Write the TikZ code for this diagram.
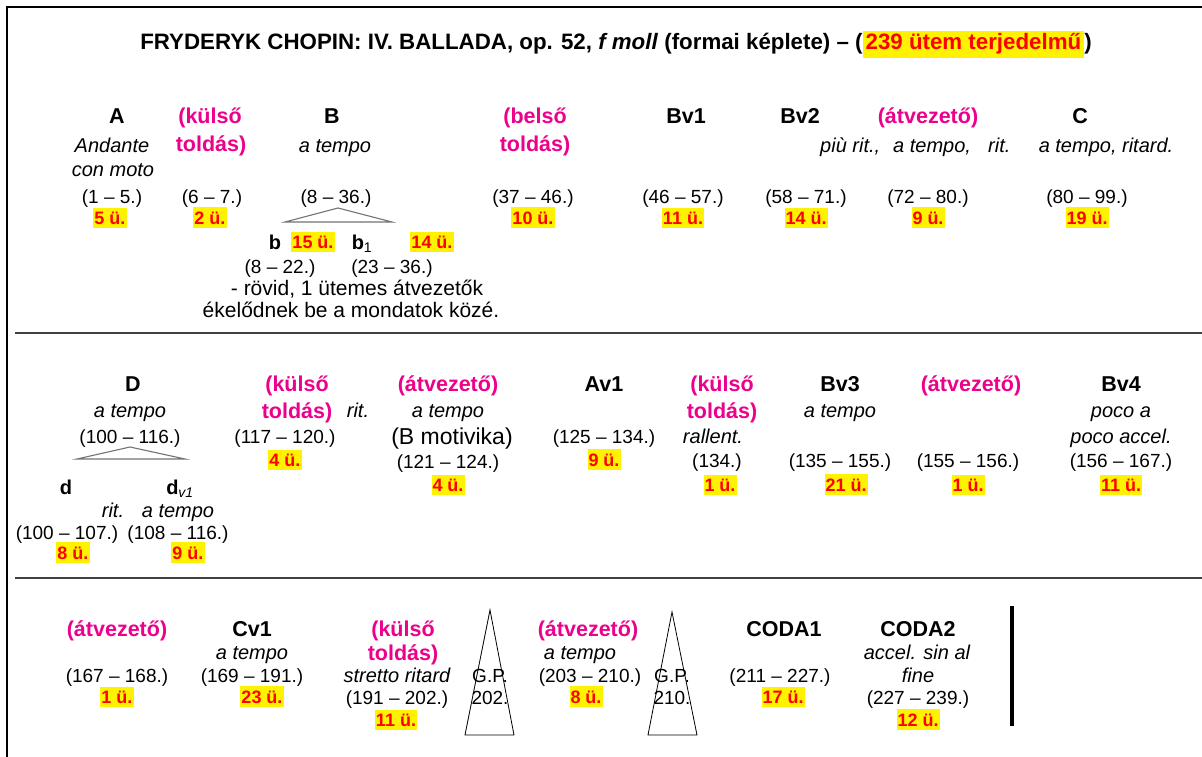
\documentclass[tikz,border=0pt]{standalone}
\usepackage{fontspec}
\setmainfont{Liberation Sans}
\newcommand\hdsize{\fontsize{21.5}{25}\selectfont}
\newcommand\itsize{\fontsize{20}{23}\selectfont}
\newcommand\nmsize{\fontsize{19}{22}\selectfont}
\newcommand\ctsize{\fontsize{18}{21}\selectfont}
\newcommand\ttlsize{\fontsize{22.3}{26}\selectfont}
\tikzset{
  every node/.style={inner sep=0pt, anchor=base},
  hd/.style={font=\hdsize\bfseries},
  mg/.style={font=\hdsize\bfseries, text=magenta},
  tm/.style={font=\itsize\itshape},
  rg/.style={font=\nmsize},
  sub/.style={font=\itsize\bfseries},
  cnt/.style={font=\ctsize\bfseries, text=red, fill=yellow, inner xsep=1pt, inner ysep=4pt},
  split/.style={draw=black!55, line width=1.1pt},
  gp/.style={draw=black, line width=0.8pt},
  rule/.style={draw=black!75, line width=1.8pt},
  frame/.style={draw=black, line width=2pt}
}
\begin{document}
\begin{tikzpicture}[x=1pt, y=-1pt]
\useasboundingbox (0,0) rectangle (1202,757);
\fill[white] (0,0) rectangle (1202,757);

% outer frame (top and left edges only) and the row dividers
\coordinate (fTL) at (7,7);
\coordinate (fTR) at (1202,7);
\coordinate (fBL) at (7,757);
\draw[frame] (fBL) -- (fTL) -- (fTR);
\coordinate (r1L) at (15,333);
\coordinate (r1R) at (1202,333);
\coordinate (r2L) at (15,578);
\coordinate (r2R) at (1202,578);
\draw[rule] (r1L) -- (r1R);
\draw[rule] (r2L) -- (r2R);

% title
\node[font=\ttlsize\bfseries] (title) at (616,50)
  {FRYDERYK CHOPIN: IV. BALLADA, op. 52, \textit{f moll} (formai képlete) – (\colorbox{yellow}{\textcolor{red}{239 ütem terjedelmű}})};

% ---------- first row ----------
\node[hd] (A) at (117,124) {A};
\node[tm] (Atm1) at (112,153) {Andante};
\node[tm] (Atm2) at (113,176) {con moto};
\node[rg] (Am) at (112,203) {(1 – 5.)};
\node[cnt] (Ac) at (110,224) {5 ü.};

\node[mg] (k1a) at (210,124) {(külső};
\node[mg] (k1b) at (211,151) {toldás)};
\node[rg] (k1m) at (212,203) {(6 – 7.)};
\node[cnt] (k1c) at (210,224) {2 ü.};

\node[hd] (B) at (332,124) {B};
\node[tm] (Btm) at (335,153) {a tempo};
\node[rg] (Bm) at (336,203) {(8 – 36.)};
\coordinate (Btop) at (338,208);
\coordinate (Bl) at (285,222);
\coordinate (Br) at (392,222);
\draw[split] (Bl) -- (Btop) -- (Br) -- cycle;
\node[sub] (b) at (275,249) {b};
\node[cnt] (bc) at (313,248) {15 ü.};
\node[sub] (b1) at (362,249) {b\textsubscript{\mdseries 1}};
\node[cnt] (b1c) at (432,248) {14 ü.};
\node[rg] (bm) at (280,273) {(8 – 22.)};
\node[rg] (b1m) at (392,273) {(23 – 36.)};
\node[rg, font=\fontsize{21}{24}\selectfont] (note1) at (357,295) {- rövid, 1 ütemes átvezetők};
\node[rg, font=\fontsize{21}{24}\selectfont] (note2) at (351,317) {ékelődnek be a mondatok közé.};

\node[mg] (be1) at (535,124) {(belső};
\node[mg] (be2) at (535,151) {toldás)};
\node[rg] (bem) at (533,203) {(37 – 46.)};
\node[cnt] (bec) at (533,224) {10 ü.};

\node[hd] (Bv1) at (686,124) {Bv1};
\node[rg] (Bv1m) at (683,203) {(46 – 57.)};
\node[cnt] (Bv1c) at (683,224) {11 ü.};

\node[hd] (Bv2) at (800,124) {Bv2};
\node[rg] (Bv2m) at (806,203) {(58 – 71.)};
\node[cnt] (Bv2c) at (806,224) {14 ü.};

\node[mg] (at1) at (928,124) {(átvezető)};
\node[tm, anchor=base west] (at1t1) at (820,153) {più rit.,};
\node[tm, anchor=base west] (at1t2) at (893,153) {a tempo,};
\node[tm, anchor=base west] (at1t3) at (988,153) {rit.};
\node[rg] (at1m) at (928,203) {(72 – 80.)};
\node[cnt] (at1c) at (928,224) {9 ü.};

\node[hd] (C) at (1080,124) {C};
\node[tm] (Ctm) at (1106,153) {a tempo, ritard.};
\node[rg] (Cm) at (1087,203) {(80 – 99.)};
\node[cnt] (Cc) at (1087,224) {19 ü.};

% ---------- second row ----------
\node[hd] (D) at (133,391) {D};
\node[tm] (Dtm) at (130,417) {a tempo};
\node[rg] (Dm) at (130,443) {(100 – 116.)};
\coordinate (Dtop) at (130,447);
\coordinate (Dl) at (77,459);
\coordinate (Dr) at (185,459);
\draw[split] (Dl) -- (Dtop) -- (Dr) -- cycle;
\node[sub] (d) at (66,494) {d};
\node[sub] (dv) at (180,494) {d\textsubscript{\mdseries\itshape v1}};
\node[tm] (drit) at (113,517) {rit.};
\node[tm] (dvtm) at (178,517) {a tempo};
\node[rg] (dm) at (67,539) {(100 – 107.)};
\node[rg] (dvm) at (178,539) {(108 – 116.)};
\node[cnt] (dc) at (73,559) {8 ü.};
\node[cnt] (dvc) at (188,559) {9 ü.};

\node[mg] (k2a) at (297,391) {(külső};
\node[mg] (k2b) at (297,418) {toldás)};
\node[tm] (k2rit) at (358,417) {rit.};
\node[rg] (k2m) at (285,443) {(117 – 120.)};
\node[cnt] (k2c) at (285,466) {4 ü.};

\node[mg] (at2) at (448,391) {(átvezető)};
\node[tm] (at2tm) at (448,417) {a tempo};
\node[font=\fontsize{23}{27}\selectfont] (at2mot) at (452,444) {(B motivika)};
\node[rg] (at2m) at (448,468) {(121 – 124.)};
\node[cnt] (at2c) at (448,491) {4 ü.};

\node[hd] (Av1) at (604,391) {Av1};
\node[rg] (Av1m) at (604,443) {(125 – 134.)};
\node[cnt] (Av1c) at (604,466) {9 ü.};

\node[mg] (k3a) at (722,391) {(külső};
\node[mg] (k3b) at (722,418) {toldás)};
\node[tm] (k3tm) at (713,443) {rallent.};
\node[rg] (k3m) at (717,467) {(134.)};
\node[cnt] (k3c) at (720,491) {1 ü.};

\node[hd] (Bv3) at (840,391) {Bv3};
\node[tm] (Bv3tm) at (840,417) {a tempo};
\node[rg] (Bv3m) at (840,467) {(135 – 155.)};
\node[cnt] (Bv3c) at (846,491) {21 ü.};

\node[mg] (at3) at (971,391) {(átvezető)};
\node[rg] (at3m) at (968,467) {(155 – 156.)};
\node[cnt] (at3c) at (968,491) {1 ü.};

\node[hd] (Bv4) at (1121,391) {Bv4};
\node[tm] (Bv4tm1) at (1121,417) {poco a};
\node[tm] (Bv4tm2) at (1121,443) {poco accel.};
\node[rg] (Bv4m) at (1121,467) {(156 – 167.)};
\node[cnt] (Bv4c) at (1121,491) {11 ü.};

% ---------- third row ----------
\node[mg] (at4) at (117,636) {(átvezető)};
\node[rg] (at4m) at (117,682) {(167 – 168.)};
\node[cnt] (at4c) at (117,703) {1 ü.};

\node[hd] (Cv1) at (252,636) {Cv1};
\node[tm] (Cv1tm) at (252,659) {a tempo};
\node[rg] (Cv1m) at (252,682) {(169 – 191.)};
\node[cnt] (Cv1c) at (262,703) {23 ü.};

\node[mg] (k4a) at (403,636) {(külső};
\node[mg] (k4b) at (403,660) {toldás)};
\node[tm] (k4tm) at (397,682) {stretto ritard};
\node[rg] (k4m) at (397,704) {(191 – 202.)};
\node[cnt] (k4c) at (396,726) {11 ü.};

\coordinate (g1top) at (490,610);
\coordinate (g1l) at (465,735);
\coordinate (g1r) at (514,735);
\draw[gp] (g1l) -- (g1top) -- (g1r) -- cycle;
\node[rg] (g1a) at (490,682) {G.P.};
\node[rg] (g1b) at (490,704) {202.};

\node[mg] (at5) at (588,636) {(átvezető)};
\node[tm] (at5tm) at (580,659) {a tempo};
\node[rg] (at5m) at (590,682) {(203 – 210.)};
\node[cnt] (at5c) at (586,703) {8 ü.};

\coordinate (g2top) at (672,612);
\coordinate (g2l) at (648,735);
\coordinate (g2r) at (697,735);
\draw[gp] (g2l) -- (g2top) -- (g2r) -- cycle;
\node[rg] (g2a) at (672,682) {G.P.};
\node[rg] (g2b) at (672,704) {210.};

\node[hd] (cd1) at (784,636) {CODA1};
\node[rg] (cd1m) at (780,682) {(211 – 227.)};
\node[cnt] (cd1c) at (783,703) {17 ü.};

\node[hd] (cd2) at (918,636) {CODA2};
\node[tm] (cd2tm1) at (917,659) {accel. sin al};
\node[tm] (cd2tm2) at (918,682) {fine};
\node[rg] (cd2m) at (918,704) {(227 – 239.)};
\node[cnt] (cd2c) at (918,726) {12 ü.};

% final bar line
\coordinate (endT) at (1012,606);
\coordinate (endB) at (1012,726);
\draw[line width=4.5pt, black] (endT) -- (endB);
\end{tikzpicture}
\end{document}
